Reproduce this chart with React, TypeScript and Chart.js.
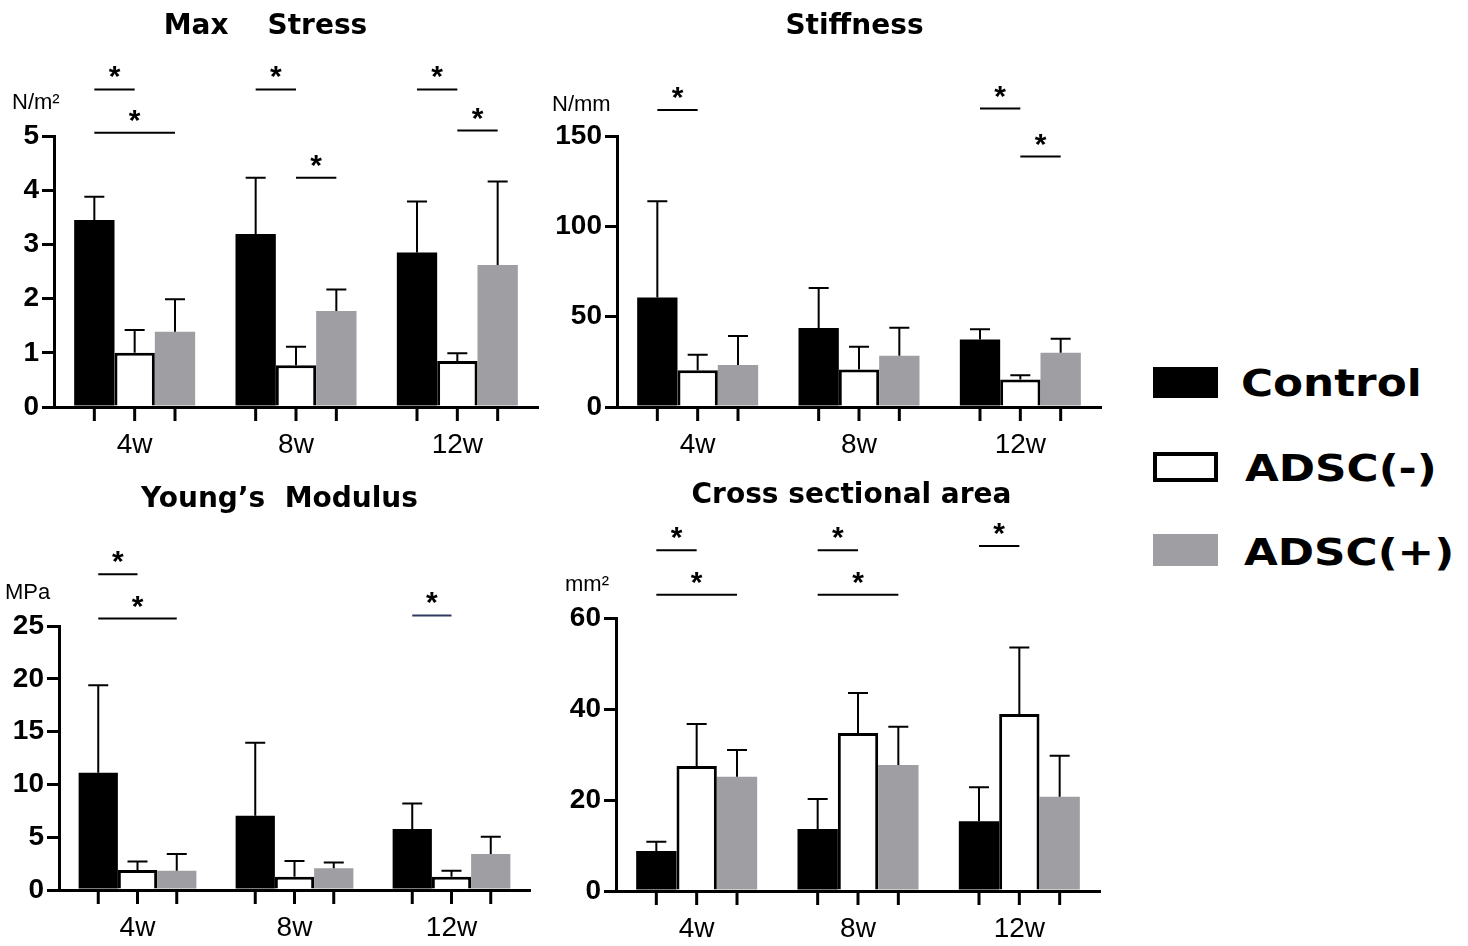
import React, { useEffect, useRef } from 'react';
import { Chart, registerables } from 'chart.js';

Chart.register(...registerables);

// ---------------- data ----------------
const categories = ['4w', '8w', '12w'];
const seriesNames = ['Control', 'ADSC(-)', 'ADSC(+)'];

// Max Stress (N/m²): means and SD (upper error bar length)
const stressControl = [3.45, 3.19, 2.85];
const stressControlSD = [0.43, 1.04, 0.94];
const stressMinus = [1.0, 0.77, 0.85];
const stressMinusSD = [0.42, 0.34, 0.14];
const stressPlus = [1.39, 1.77, 2.62];
const stressPlusSD = [0.6, 0.4, 1.54];
const stressTicks = [0, 1, 2, 3, 4, 5];
// [category, fromSeries, toSeries, bracket height in axis units]
const stressSig = [
  [0, 0, 1, 5.86],
  [0, 0, 2, 5.06],
  [1, 0, 1, 5.86],
  [1, 1, 2, 4.23],
  [2, 0, 1, 5.86],
  [2, 1, 2, 5.1],
];

// Stiffness (N/mm)
const stiffControl = [60.6, 43.7, 37.4];
const stiffControlSD = [53.3, 22.1, 5.6];
const stiffMinus = [20.4, 20.7, 15.2];
const stiffMinusSD = [8.5, 12.6, 2.4];
const stiffPlus = [23.2, 28.3, 30.0];
const stiffPlusSD = [16.1, 15.6, 7.8];
const stiffTicks = [0, 50, 100, 150];
const stiffSig = [
  [0, 0, 1, 164.4],
  [2, 0, 1, 165.2],
  [2, 1, 2, 138.6],
];

// Young's Modulus (MPa)
const youngControl = [11.1, 7.04, 5.78];
const youngControlSD = [8.3, 6.9, 2.4];
const youngMinus = [1.9, 1.26, 1.26];
const youngMinusSD = [0.8, 1.49, 0.57];
const youngPlus = [1.83, 2.05, 3.4];
const youngPlusSD = [1.57, 0.55, 1.65];
const youngTicks = [0, 5, 10, 15, 20, 25];
const youngSig = [
  [0, 0, 1, 29.9],
  [0, 0, 2, 25.7],
  [2, 0, 1, 26.0],
];

// Cross sectional area (mm²)
const csaControl = [8.8, 13.6, 15.35];
const csaControlSD = [2.0, 6.6, 7.45];
const csaMinus = [27.5, 34.7, 38.9];
const csaMinusSD = [9.2, 8.8, 14.6];
const csaPlus = [25.1, 27.7, 20.7];
const csaPlusSD = [5.9, 8.4, 9.0];
const csaTicks = [0, 20, 40, 60];
const csaSig = [
  [0, 0, 1, 74.9],
  [0, 0, 2, 65.1],
  [1, 0, 1, 74.9],
  [1, 0, 2, 65.1],
  [2, 0, 1, 75.8],
];

// ---------------- styling / layout ----------------
const COLORS = ['#000000', '#ffffff', '#9e9ea3'];
const SANS = "'Liberation Sans', Arial, sans-serif";
const TITLE_FONT = "'DejaVu Sans', sans-serif";
const X_H = 55;

type Panel = {
  title: string;
  unit: string;
  series: number[][];
  sds: number[][];
  ticks: number[];
  sig: number[][];
  sigColors?: string[];
  box: { x: number; y: number; w: number; h: number };
  area: { l: number; t: number; r: number; b: number };
  titlePos: [number, number];
  unitPos: [number, number];
};

const panels: Panel[] = [
  {
    title: 'Max    Stress',
    unit: 'N/m²',
    series: [stressControl, stressMinus, stressPlus],
    sds: [stressControlSD, stressMinusSD, stressPlusSD],
    ticks: stressTicks,
    sig: stressSig,
    box: { x: 0, y: 0, w: 545, h: 475 },
    area: { l: 54, t: 136, r: 538, b: 407 },
    titlePos: [265.5, 27],
    unitPos: [12, 103],
  },
  {
    title: 'Stiffness',
    unit: 'N/mm',
    series: [stiffControl, stiffMinus, stiffPlus],
    sds: [stiffControlSD, stiffMinusSD, stiffPlusSD],
    ticks: stiffTicks,
    sig: stiffSig,
    box: { x: 545, y: 0, w: 575, h: 475 },
    area: { l: 617, t: 136, r: 1101, b: 407 },
    titlePos: [309.5, 27],
    unitPos: [7, 105],
  },
  {
    title: 'Young’s  Modulus',
    unit: 'MPa',
    series: [youngControl, youngMinus, youngPlus],
    sds: [youngControlSD, youngMinusSD, youngPlusSD],
    ticks: youngTicks,
    sig: youngSig,
    sigColors: ['#000', '#000', '#2e3a5c'],
    box: { x: 0, y: 475, w: 545, h: 471 },
    area: { l: 59, t: 626, r: 530, b: 890 },
    titlePos: [279.5, 25],
    unitPos: [5, 118],
  },
  {
    title: 'Cross sectional area',
    unit: 'mm²',
    series: [csaControl, csaMinus, csaPlus],
    sds: [csaControlSD, csaMinusSD, csaPlusSD],
    ticks: csaTicks,
    sig: csaSig,
    box: { x: 545, y: 475, w: 575, h: 471 },
    area: { l: 616, t: 618, r: 1100, b: 891 },
    titlePos: [306.5, 21],
    unitPos: [20, 110],
  },
];

function makeDecor(p: Panel) {
  return {
    id: 'decor',
    afterDraw(chart: any) {
      const ctx = chart.ctx;
      const { bottom } = chart.chartArea;
      const ys = chart.scales.y;
      ctx.save();
      ctx.strokeStyle = '#000';
      // error bars and x tick marks
      chart.data.datasets.forEach((ds: any, di: number) => {
        const meta = chart.getDatasetMeta(di);
        meta.data.forEach((bar: any, i: number) => {
          const v = ds.data[i];
          const y0 = ys.getPixelForValue(v);
          const y1 = ys.getPixelForValue(v + ds.sd[i]);
          ctx.lineWidth = 2;
          ctx.beginPath();
          ctx.moveTo(bar.x, y0);
          ctx.lineTo(bar.x, y1);
          ctx.moveTo(bar.x - 10, y1);
          ctx.lineTo(bar.x + 10, y1);
          ctx.stroke();
          ctx.lineWidth = 3;
          ctx.beginPath();
          ctx.moveTo(bar.x, bottom);
          ctx.lineTo(bar.x, bottom + 14);
          ctx.stroke();
        });
      });
      // significance brackets
      p.sig.forEach((s, k) => {
        const [cat, a, b, yv] = s;
        const xa = chart.getDatasetMeta(a).data[cat].x;
        const xb = chart.getDatasetMeta(b).data[cat].x;
        const py = ys.getPixelForValue(yv);
        ctx.strokeStyle = (p.sigColors && p.sigColors[k]) || '#000';
        ctx.lineWidth = 2;
        ctx.beginPath();
        ctx.moveTo(xa, py);
        ctx.lineTo(xb, py);
        ctx.stroke();
        ctx.fillStyle = '#000';
        ctx.font = `bold 30px ${SANS}`;
        ctx.textAlign = 'center';
        ctx.textBaseline = 'alphabetic';
        ctx.fillText('*', (xa + xb) / 2, py - 3);
      });
      // title
      ctx.fillStyle = '#000';
      ctx.font = `bold 28px ${TITLE_FONT}`;
      ctx.textAlign = 'center';
      ctx.textBaseline = 'middle';
      ctx.fillText(p.title, p.titlePos[0] - (p.box.x ? 0 : 0), p.titlePos[1]);
      // unit
      ctx.font = `22px ${SANS}`;
      ctx.textAlign = 'left';
      ctx.fillText(p.unit, p.unitPos[0], p.unitPos[1]);
      ctx.restore();
    },
  };
}

function buildConfig(p: Panel): any {
  const step = p.ticks[1] - p.ticks[0];
  const yW = p.area.l - p.box.x - 2;
  const pad = {
    left: 2,
    top: p.area.t - p.box.y,
    right: p.box.x + p.box.w - p.area.r,
    bottom: p.box.y + p.box.h - p.area.b - X_H,
  };
  return {
    type: 'bar',
    data: {
      labels: categories,
      datasets: seriesNames.map((name, i) => ({
        label: name,
        data: p.series[i],
        sd: p.sds[i],
        backgroundColor: COLORS[i],
        borderColor: '#000',
        borderWidth: i === 1 ? 3 : 0,
        barPercentage: 1,
        categoryPercentage: 0.75,
      })),
    },
    options: {
      responsive: false,
      animation: false,
      devicePixelRatio: 1,
      layout: { padding: pad },
      plugins: {
        legend: { display: false },
        tooltip: { enabled: false },
        title: { display: false },
      },
      scales: {
        x: {
          ticks: { font: { family: SANS, size: 28 }, color: '#000', padding: 21 },
          grid: { display: true, drawOnChartArea: false, drawTicks: false },
          border: { display: true, width: 3, color: '#000' },
          afterFit: (s: any) => {
            s.height = X_H;
          },
        },
        y: {
          min: p.ticks[0],
          max: p.ticks[p.ticks.length - 1],
          ticks: {
            stepSize: step,
            font: { family: SANS, size: 28, weight: 'bold' },
            color: '#000',
            padding: 3,
          },
          grid: {
            display: true,
            drawOnChartArea: false,
            drawTicks: true,
            tickLength: 12,
            lineWidth: 3,
            color: '#000',
          },
          border: { display: true, width: 3, color: '#000' },
          afterFit: (s: any) => {
            s.width = yW;
          },
        },
      },
    },
    plugins: [makeDecor(p)],
  };
}

function BarPanel({ panel }: { panel: Panel }) {
  const ref = useRef<HTMLCanvasElement | null>(null);
  useEffect(() => {
    const chart = new Chart(ref.current as HTMLCanvasElement, buildConfig(panel));
    return () => chart.destroy();
  }, [panel]);
  const b = panel.box;
  return (
    <canvas
      ref={ref}
      width={b.w}
      height={b.h}
      style={{ position: 'absolute', left: b.x, top: b.y, width: b.w, height: b.h }}
    />
  );
}

const legendItems = [
  { name: seriesNames[0], box: { top: 367, h: 31, bg: COLORS[0], border: 'none' }, textLeft: 1241, cy: 382 },
  { name: seriesNames[1], box: { top: 452, h: 30, bg: COLORS[1], border: '4px solid #000' }, textLeft: 1245, cy: 467 },
  { name: seriesNames[2], box: { top: 534, h: 32, bg: COLORS[2], border: 'none' }, textLeft: 1244, cy: 551 },
];

export default function App() {
  return (
    <div
      style={{
        position: 'absolute',
        left: 0,
        top: 0,
        width: 1468,
        height: 946,
        background: '#fff',
        overflow: 'hidden',
      }}
    >
      {panels.map((p, i) => (
        <BarPanel key={i} panel={p} />
      ))}
      {legendItems.map((it) => (
        <React.Fragment key={it.name}>
          <div
            style={{
              position: 'absolute',
              left: 1153,
              top: it.box.top,
              width: 65,
              height: it.box.h,
              background: it.box.bg,
              border: it.box.border,
              boxSizing: 'border-box',
            }}
          />
          <div
            style={{
              position: 'absolute',
              left: it.textLeft,
              top: it.cy - 18,
              fontFamily: "'DejaVu Sans', sans-serif",
              fontWeight: 'bold',
              fontSize: 38,
              lineHeight: '38px',
              color: '#000',
              whiteSpace: 'nowrap',
              transform: 'scaleX(1.15)',
              transformOrigin: 'left center',
            }}
          >
            {it.name}
          </div>
        </React.Fragment>
      ))}
    </div>
  );
}
